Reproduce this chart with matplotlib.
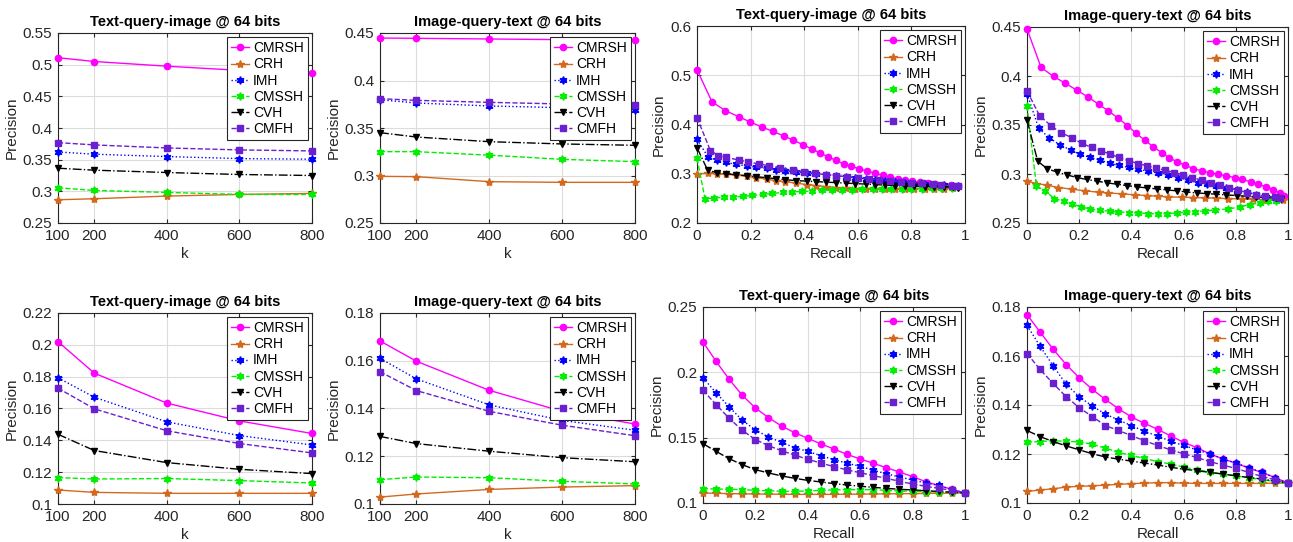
import matplotlib
matplotlib.use('Agg')
import matplotlib.pyplot as plt

plt.rcParams['font.family'] = ['Liberation Sans', 'DejaVu Sans']

methods = ['CMRSH', 'CRH', 'IMH', 'CMSSH', 'CVH', 'CMFH']
k = [100, 200, 400, 600, 800]
recall_21 = [0, 0.05, 0.1, 0.15, 0.2, 0.25, 0.3, 0.35, 0.4, 0.45, 0.5,
             0.55, 0.6, 0.65, 0.7, 0.75, 0.8, 0.85, 0.9, 0.95, 1.0]

# ---- top row, precision @ k ----
t2i_k_top = [
    [0.511, 0.505, 0.4976, 0.491, 0.4876],   # CMRSH
    [0.2867, 0.2883, 0.2925, 0.2951, 0.2967],  # CRH
    [0.3622, 0.3586, 0.3549, 0.3517, 0.3507],  # IMH
    [0.3056, 0.3014, 0.2983, 0.2951, 0.2951],  # CMSSH
    [0.3365, 0.3334, 0.3297, 0.3266, 0.325],   # CVH
    [0.3769, 0.3733, 0.3685, 0.3654, 0.3638],  # CMFH
]
i2t_k_top = [
    [0.4447, 0.4444, 0.4437, 0.443, 0.4423],
    [0.2991, 0.2988, 0.2935, 0.2928, 0.2928],
    [0.3798, 0.3763, 0.3732, 0.3714, 0.3686],
    [0.3251, 0.3251, 0.3214, 0.3170, 0.3146],
    [0.3451, 0.3405, 0.3356, 0.3332, 0.3318],
    [0.3809, 0.3791, 0.377, 0.3753, 0.3739],
]

# ---- bottom row, precision @ k ----
t2i_k_bot = [
    [0.2020, 0.1822, 0.1634, 0.1522, 0.1443],
    [0.1088, 0.1073, 0.1067, 0.1067, 0.1067],
    [0.1793, 0.1671, 0.1516, 0.1430, 0.1371],
    [0.1166, 0.1157, 0.1160, 0.1147, 0.1132],
    [0.1438, 0.1336, 0.1260, 0.1218, 0.1191],
    [0.1728, 0.1598, 0.1460, 0.1380, 0.1321],
]
i2t_k_bot = [
    [0.1683, 0.1598, 0.1476, 0.1388, 0.1335],
    [0.1029, 0.1042, 0.1061, 0.1071, 0.1077],
    [0.1610, 0.1524, 0.1415, 0.1350, 0.1309],
    [0.1102, 0.1113, 0.1110, 0.1095, 0.1084],
    [0.1283, 0.1253, 0.1221, 0.1194, 0.1177],
    [0.1554, 0.1475, 0.1388, 0.1330, 0.1286],
]

# ---- top row, precision-recall (recall points differ per method) ----
t2i_pr_top_r = [
    [0, .056, .106, .155, .199, .242, .283, .323, .36, .395, .429, .46, .49, .519, .547,
     .575, .606, .636, .665, .693, .72, .749, .776, .804, .832, .861, .888, .917, .947, .975],
    [0, .04, .075, .11, .145, .185, .22, .26, .295, .33, .37, .41, .445, .48, .52, .555,
     .59, .63, .665, .70, .74, .775, .81, .85, .885, .92, .955],
    [0, .04, .075, .11, .145, .185, .22, .26, .295, .33, .37, .41, .445, .48, .52, .555,
     .59, .63, .665, .70, .74, .775, .81, .85, .885, .92, .955, .975],
    [0, .03, .065, .10, .135, .17, .205, .245, .28, .32, .355, .39, .43, .465, .505, .54,
     .58, .615, .655, .69, .725, .765, .80, .84, .875, .91, .95],
    [0, .04, .075, .11, .145, .185, .22, .26, .295, .33, .37, .41, .445, .48, .52, .555,
     .59, .63, .665, .70, .74, .775, .81, .85, .885, .92, .955, .975],
    [0, .05, .08, .11, .155, .19, .23, .27, .31, .36, .40, .44, .48, .52, .56, .60, .64,
     .68, .72, .76, .80, .84, .88, .91, .95, .975],
]
t2i_pr_top_p = [
    [0.511, 0.446, 0.428, 0.416, 0.405, 0.395, 0.386, 0.377, 0.368, 0.359, 0.350, 0.342,
     0.334, 0.327, 0.320, 0.315, 0.310, 0.305, 0.301, 0.297, 0.293, 0.290, 0.287, 0.285,
     0.283, 0.281, 0.279, 0.278, 0.277, 0.276],
    [0.300, 0.301, 0.300, 0.299, 0.297, 0.295, 0.292, 0.289, 0.286, 0.284, 0.281, 0.278,
     0.276, 0.274, 0.272, 0.271, 0.270, 0.270, 0.270, 0.270, 0.270, 0.270, 0.270, 0.270,
     0.270, 0.270, 0.271],
    [0.370, 0.335, 0.327, 0.323, 0.319, 0.316, 0.313, 0.311, 0.308, 0.306, 0.304, 0.302,
     0.300, 0.298, 0.296, 0.294, 0.292, 0.290, 0.288, 0.286, 0.284, 0.282, 0.280, 0.279,
     0.278, 0.277, 0.276, 0.275],
    [0.331, 0.249, 0.251, 0.252, 0.253, 0.254, 0.256, 0.258, 0.260, 0.262, 0.263, 0.264,
     0.265, 0.266, 0.267, 0.268, 0.268, 0.269, 0.269, 0.270, 0.270, 0.270, 0.270, 0.270,
     0.271, 0.271, 0.272],
    [0.353, 0.307, 0.302, 0.300, 0.298, 0.296, 0.294, 0.292, 0.290, 0.288, 0.286, 0.285,
     0.284, 0.283, 0.282, 0.281, 0.280, 0.279, 0.278, 0.277, 0.276, 0.275, 0.275, 0.274,
     0.274, 0.273, 0.273, 0.272],
    [0.414, 0.347, 0.337, 0.333, 0.328, 0.324, 0.320, 0.316, 0.312, 0.307, 0.304, 0.301,
     0.298, 0.296, 0.294, 0.292, 0.290, 0.288, 0.286, 0.284, 0.282, 0.281, 0.279, 0.278,
     0.276, 0.275],
]

i2t_pr_top_r = [
    [0, .054, .102, .146, .191, .233, .274, .312, .35, .385, .418, .452, .484, .516, .545,
     .574, .605, .637, .669, .701, .732, .764, .796, .825, .857, .885, .915, .943, .968, .985],
    [0, .036, .076, .12, .172, .223, .274, .312, .363, .414, .459, .503, .541, .592, .637,
     .682, .726, .771, .822, .866, .911, .955, .98],
    [0, .045, .085, .127, .168, .204, .242, .28, .318, .354, .389, .427, .465, .503, .541,
     .58, .618, .654, .691, .726, .764, .803, .841, .879, .917, .955],
    [0, .036, .07, .104, .14, .172, .207, .242, .28, .318, .35, .389, .427, .465, .503,
     .535, .573, .608, .643, .682, .72, .771, .815, .854, .892, .924, .955],
    [0, .041, .076, .115, .153, .191, .229, .268, .306, .344, .382, .42, .459, .497, .535,
     .573, .611, .65, .688, .726, .764, .803, .841, .879, .917, .955, .975],
    [0, .048, .093, .13, .172, .21, .248, .284, .318, .352, .389, .424, .459, .493, .529,
     .565, .599, .634, .669, .704, .739, .773, .809, .844, .879, .913, .949, .968],
]
i2t_pr_top_p = [
    [0.448, 0.4087, 0.3995, 0.3927, 0.3855, 0.3787, 0.3712, 0.3643, 0.3568, 0.3493, 0.3415,
     0.3343, 0.3278, 0.3217, 0.3166, 0.3125, 0.3090, 0.3056, 0.3032, 0.3012, 0.2998, 0.2981,
     0.2964, 0.2944, 0.292, 0.2896, 0.2869, 0.2841, 0.2807, 0.2773],
    [0.2927, 0.2903, 0.2886, 0.2862, 0.2845, 0.2828, 0.2814, 0.2807, 0.2797, 0.2787, 0.278,
     0.2773, 0.2766, 0.2763, 0.276, 0.2756, 0.2753, 0.2749, 0.2746, 0.2742, 0.2739, 0.2739,
     0.2739],
    [0.382, 0.3466, 0.337, 0.3295, 0.3244, 0.32, 0.3169, 0.3142, 0.3108, 0.3087, 0.3067,
     0.3046, 0.3029, 0.3009, 0.2988, 0.2964, 0.2937, 0.2913, 0.2896, 0.2879, 0.2858, 0.2841,
     0.2817, 0.279, 0.2766, 0.2756],
    [0.3695, 0.2879, 0.2828, 0.2749, 0.2722, 0.2698, 0.2664, 0.2643, 0.263, 0.262, 0.2613,
     0.2606, 0.2602, 0.2596, 0.2592, 0.2596, 0.2602, 0.2609, 0.2616, 0.2623, 0.2633, 0.2643,
     0.2664, 0.2688, 0.2705, 0.2722, 0.2729],
    [0.3551, 0.3131, 0.3056, 0.3019, 0.2991, 0.2964, 0.2944, 0.2927, 0.291, 0.2896, 0.2882,
     0.2869, 0.2858, 0.2848, 0.2838, 0.2828, 0.2817, 0.2807, 0.28, 0.2794, 0.2787, 0.278,
     0.2773, 0.2766, 0.2759, 0.2753, 0.2746],
    [0.3848, 0.3596, 0.349, 0.3422, 0.337, 0.3312, 0.3271, 0.3237, 0.3203, 0.3169, 0.3135,
     0.3107, 0.3084, 0.3063, 0.3039, 0.3015, 0.2991, 0.2964, 0.2937, 0.291, 0.2886, 0.2858,
     0.2834, 0.281, 0.279, 0.2773, 0.2766, 0.2756],
]

# ---- bottom row, precision-recall (21 recall points) ----
t2i_pr_bot = [
    [0.2232, 0.2084, 0.1946, 0.1824, 0.1727, 0.1653, 0.1589, 0.1538, 0.1495, 0.1452, 0.1413,
     0.1372, 0.1337, 0.1304, 0.1270, 0.1237, 0.1202, 0.1163, 0.1133, 0.1105, 0.1077],
    [0.1077, 0.1074, 0.1072, 0.1070, 0.1069, 0.1068, 0.1067, 0.1066, 0.1066, 0.1066, 0.1066,
     0.1067, 0.1068, 0.1069, 0.1070, 0.1071, 0.1072, 0.1073, 0.1074, 0.1076, 0.1077],
    [0.1957, 0.1844, 0.1735, 0.1633, 0.1559, 0.1505, 0.1464, 0.1423, 0.1395, 0.1362, 0.1332,
     0.1304, 0.1281, 0.1250, 0.1224, 0.1199, 0.1176, 0.1153, 0.1135, 0.1102, 0.1077],
    [0.1110, 0.1107, 0.1105, 0.1102, 0.1097, 0.1094, 0.1089, 0.1089, 0.1092, 0.1097, 0.1100,
     0.1102, 0.1102, 0.1102, 0.1097, 0.1092, 0.1089, 0.1087, 0.1084, 0.1082, 0.1077],
    [0.1454, 0.1395, 0.1339, 0.1293, 0.1255, 0.1230, 0.1207, 0.1189, 0.1173, 0.1161, 0.1148,
     0.1138, 0.1128, 0.1120, 0.1112, 0.1105, 0.1100, 0.1094, 0.1089, 0.1082, 0.1077],
    [0.1862, 0.1753, 0.1648, 0.1556, 0.1485, 0.1439, 0.1400, 0.1367, 0.1334, 0.1306, 0.1278,
     0.1253, 0.1232, 0.1209, 0.1189, 0.1166, 0.1145, 0.1128, 0.1112, 0.1097, 0.1077],
]
i2t_pr_bot = [
    [0.1769, 0.1698, 0.1628, 0.1565, 0.1511, 0.1464, 0.1423, 0.1385, 0.1351, 0.1325, 0.1301,
     0.1274, 0.1248, 0.1226, 0.1201, 0.1180, 0.1163, 0.1142, 0.1125, 0.1104, 0.1081],
    [0.1047, 0.1053, 0.1058, 0.1065, 0.1068, 0.1070, 0.1073, 0.1076, 0.1079, 0.1081, 0.1083,
     0.1083, 0.1081, 0.1080, 0.1080, 0.1080, 0.1080, 0.1080, 0.1080, 0.1081, 0.1081],
    [0.1725, 0.1640, 0.1560, 0.1485, 0.1434, 0.1396, 0.1363, 0.1339, 0.1316, 0.1292, 0.1274,
     0.1252, 0.1235, 0.1217, 0.1201, 0.1180, 0.1163, 0.1144, 0.1125, 0.1103, 0.1081],
    [0.1248, 0.1251, 0.1254, 0.1252, 0.1249, 0.1240, 0.1224, 0.1207, 0.1194, 0.1182, 0.1169,
     0.1159, 0.1146, 0.1136, 0.1127, 0.1118, 0.1111, 0.1103, 0.1095, 0.1088, 0.1081],
    [0.1296, 0.1271, 0.1251, 0.1233, 0.1217, 0.1201, 0.1188, 0.1179, 0.1171, 0.1163, 0.1155,
     0.1146, 0.1138, 0.1132, 0.1125, 0.1118, 0.1111, 0.1104, 0.1098, 0.1089, 0.1081],
    [0.1610, 0.1545, 0.1488, 0.1434, 0.1389, 0.1353, 0.1316, 0.1296, 0.1275, 0.1254, 0.1235,
     0.1217, 0.1201, 0.1186, 0.1169, 0.1155, 0.1141, 0.1125, 0.1108, 0.1095, 0.1081],
]

colors = ['#ff00ff', '#d2691e', '#0000ff', '#00ee00', '#000000', '#6a1fd0']
styles = ['-', '-', ':', '--', '-.', '--']
markers = ['o', '*', (6, 1, 0), (6, 1, 0), 'v', 's']
msizes = [4.5, 6, 5.5, 5.5, 5, 4.5]

W, H = 1293, 542
fig = plt.figure(figsize=(W / 100, H / 100), dpi=100)


def panel(px, title, xs, ys, xlabel, ylim, yticks, xlim, xticks, xticklabels=None):
    l, r, t, b = px
    ax = fig.add_axes([l / W, 1 - b / H, (r - l) / W, (b - t) / H])
    for i, name in enumerate(methods):
        x = xs[i] if isinstance(xs[0], list) else xs
        ax.plot(x, ys[i], color=colors[i], linestyle=styles[i], linewidth=1,
                marker=markers[i], markersize=msizes[i], markerfacecolor=colors[i],
                markeredgecolor=colors[i], label=name, clip_on=False, zorder=3)
    ax.set_xlim(xlim)
    ax.set_ylim(ylim)
    ax.set_xticks(xticks)
    if xticklabels:
        ax.set_xticklabels(xticklabels)
    ax.set_yticks(yticks)
    ax.set_yticklabels(['%g' % v for v in yticks])
    ax.grid(True, color='#dcdcdc', linewidth=0.8)
    ax.set_axisbelow(True)
    ax.tick_params(direction='in', length=3, labelsize=11, colors='#262626', pad=4,
                   top=True, right=True)
    for s in ax.spines.values():
        s.set_color('#262626')
        s.set_linewidth(0.8)
    ax.set_title(title, fontsize=10.5, fontweight='bold', pad=5)
    ax.set_xlabel(xlabel, fontsize=11, color='#262626', labelpad=3)
    ax.set_ylabel('Precision', fontsize=11, color='#262626', labelpad=3)
    leg = ax.legend(loc='upper right', fontsize=10, fancybox=False, framealpha=1,
                    edgecolor='#262626', borderpad=0.3, labelspacing=0.15,
                    handlelength=1.3, handletextpad=0.25, borderaxespad=0.3)
    leg.get_frame().set_linewidth(0.8)
    leg.set_zorder(5)
    return ax


kt = [100, 200, 400, 600, 800]
rt = [0, 0.2, 0.4, 0.6, 0.8, 1]
rl = ['0', '0.2', '0.4', '0.6', '0.8', '1']

panel((58, 312, 33, 223), 'Text-query-image @ 64 bits', k, t2i_k_top, 'k',
      (0.25, 0.55), [0.25, 0.3, 0.35, 0.4, 0.45, 0.5, 0.55], (100, 800), kt)
panel((380, 635, 33, 223), 'Image-query-text @ 64 bits', k, i2t_k_top, 'k',
      (0.25, 0.45), [0.25, 0.3, 0.35, 0.4, 0.45], (100, 800), kt)
panel((697, 965, 26, 223), 'Text-query-image @ 64 bits', t2i_pr_top_r, t2i_pr_top_p, 'Recall',
      (0.2, 0.6), [0.2, 0.3, 0.4, 0.5, 0.6], (0, 1), rt, rl)
panel((1027, 1288, 27, 223), 'Image-query-text @ 64 bits', i2t_pr_top_r, i2t_pr_top_p, 'Recall',
      (0.25, 0.45), [0.25, 0.3, 0.35, 0.4, 0.45], (0, 1), rt, rl)

panel((58, 312, 313, 504), 'Text-query-image @ 64 bits', k, t2i_k_bot, 'k',
      (0.1, 0.22), [0.1, 0.12, 0.14, 0.16, 0.18, 0.2, 0.22], (100, 800), kt)
panel((380, 635, 313, 504), 'Image-query-text @ 64 bits', k, i2t_k_bot, 'k',
      (0.1, 0.18), [0.1, 0.12, 0.14, 0.16, 0.18], (100, 800), kt)
panel((703, 965, 307, 503), 'Text-query-image @ 64 bits', recall_21, t2i_pr_bot, 'Recall',
      (0.1, 0.25), [0.1, 0.15, 0.2, 0.25], (0, 1), rt, rl)
panel((1027, 1288, 307, 503), 'Image-query-text @ 64 bits', recall_21, i2t_pr_bot, 'Recall',
      (0.1, 0.18), [0.1, 0.12, 0.14, 0.16, 0.18], (0, 1), rt, rl)

fig.savefig('out.png', dpi=100, facecolor='white')
